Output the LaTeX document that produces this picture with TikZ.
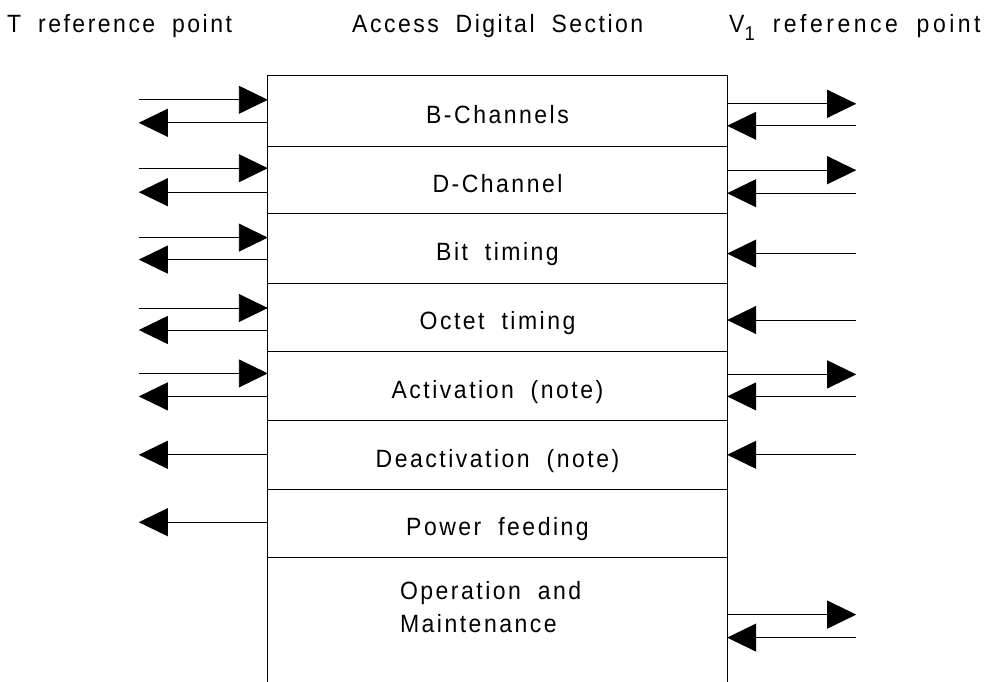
\documentclass[tikz,border=0pt]{standalone}
\usepackage{fontspec}
\setmainfont{Liberation Sans}[FakeStretch=0.92,LetterSpace=10,WordSpace=1.9]
\usetikzlibrary{arrows.meta,positioning}

\tikzset{
  sig/.style={-{Triangle[length=29pt,width=28pt]},line width=0.9pt},
  sep/.style={line width=0.9pt},
  slot/.style={minimum width=459pt,inner sep=0pt,text height=24.6pt,text depth=0pt},
  head/.style={anchor=base west,inner sep=0pt},
}

\begin{document}
\begin{tikzpicture}[x=1pt,y=-1pt,font=\fontsize{25}{33}\selectfont]
\useasboundingbox (0,0) rectangle (995,682);

% headings
\node[head] (tref) at (7,33) {T reference point};
\node[head] (ads) at (352,33) {Access Digital Section};
\node[head] (vref) at (729,33) {V\raisebox{-8pt}{\fontsize{20}{20}\selectfont 1}\hspace{18pt}\addfontfeature{LetterSpace=14}reference point};

% access digital section
\node[slot,minimum height=70pt] (bch) at (497.5,111) {B-Channels};
\node[slot,minimum height=67pt,below=0pt of bch] (dch) {D-Channel};
\node[slot,minimum height=69pt,below=0pt of dch] (bit) {Bit timing};
\node[slot,minimum height=68pt,below=0pt of bit] (oct) {Octet timing};
\node[slot,minimum height=69pt,below=0pt of oct] (act) {Activation (note)};
\node[slot,minimum height=68pt,below=0pt of act] (deact) {Deactivation (note)};
\node[slot,minimum height=68pt,below=0pt of deact] (pwr) {Power feeding};
\node[slot,minimum height=127pt,below=0pt of pwr] (om) {};
\node[anchor=north west,align=left,inner sep=0pt] (omtxt) at ([shift={(132,24)}]om.north west) {Operation and\\Maintenance};

\draw[sep] (om.south west) -- (bch.north west) -- (bch.north east) -- (om.south east);
\foreach \r in {bch,dch,bit,oct,act,deact,pwr}
  \draw[sep] (\r.south west) -- (\r.south east);

% T side
\foreach \r/\a/\b in {bch/24/47,dch/22/46,bit/24/46,oct/25/47,act/22/45}{
  \draw[sig] ([shift={(-129,\a)}]\r.north west) -- ([shift={(0,\a)}]\r.north west);
  \draw[sig] ([shift={(0,\b)}]\r.north west) -- ([shift={(-129,\b)}]\r.north west);
}
\foreach \r/\b in {deact/34,pwr/33}
  \draw[sig] ([shift={(0,\b)}]\r.north west) -- ([shift={(-129,\b)}]\r.north west);

% V1 side
\foreach \r/\a/\b in {bch/28/50,dch/24/47,act/23/45,om/57/80}{
  \draw[sig] ([shift={(0,\a)}]\r.north east) -- ([shift={(129,\a)}]\r.north east);
  \draw[sig] ([shift={(129,\b)}]\r.north east) -- ([shift={(0,\b)}]\r.north east);
}
\foreach \r/\b in {bit/40,oct/37,deact/34}
  \draw[sig] ([shift={(129,\b)}]\r.north east) -- ([shift={(0,\b)}]\r.north east);
\end{tikzpicture}
\end{document}
